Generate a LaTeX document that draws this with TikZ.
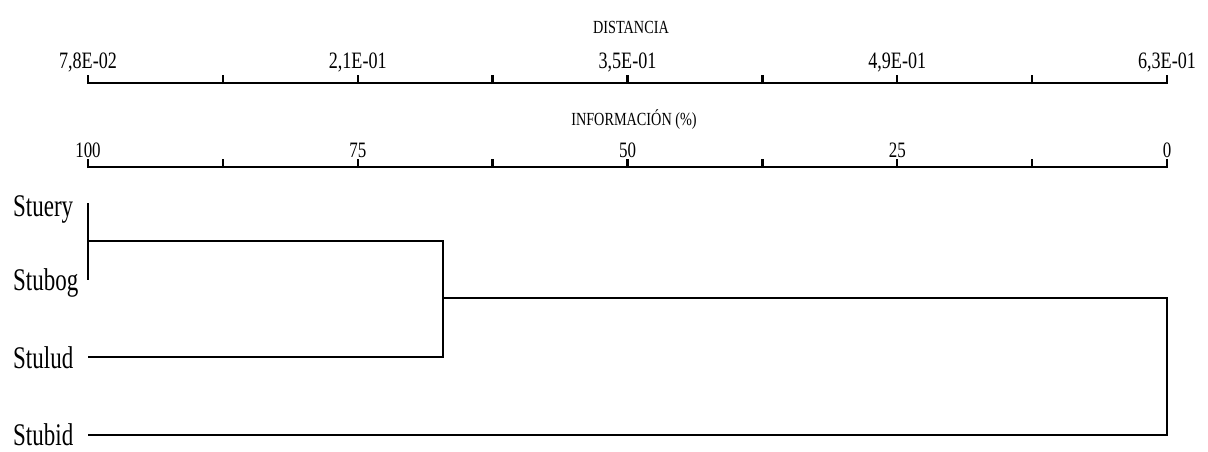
\documentclass[tikz,border=0pt]{standalone}
\usepackage{fontspec}
\setmainfont{Liberation Serif}
\newcommand{\cond}[1]{\scalebox{0.77}[1]{#1}}
\newcommand{\condl}[1]{\scalebox{0.73}[1]{#1}}
\begin{document}
\begin{tikzpicture}[x=1pt,y=-1pt,
  axisline/.style={line width=2.3pt},
  dendro/.style={line width=2.8pt},
  toplab/.style={anchor=base,inner sep=0pt,font=\fontsize{23.5}{23.5}\selectfont},
  botlab/.style={anchor=base,inner sep=0pt,font=\fontsize{22}{22}\selectfont},
  titlelab/.style={anchor=base,inner sep=0pt,font=\fontsize{18.5}{18.5}\selectfont},
  leaf/.style={anchor=base west,inner sep=0pt,font=\fontsize{31.5}{31.5}\selectfont}]
\useasboundingbox (0,0) rectangle (1208,452);
% titles
\node[titlelab] (tdist) at (631,34) {\cond{DISTANCIA}};
\node[titlelab] (tinfo) at (634,125) {\cond{INFORMACIÓN (\%)}};
% axes
\coordinate (a0) at (88,83);
\coordinate (a1) at (1167,83);
\coordinate (b0) at (88,167);
\coordinate (b1) at (1167,167);
\draw[axisline] (a0) -- (a1);
\draw[axisline] (b0) -- (b1);
\foreach \i in {0,...,8} {
  \pgfmathsetmacro{\xx}{88+134.875*\i}
  \draw[axisline] (\xx,84.1) -- (\xx,75);
  \draw[axisline] (\xx,168.1) -- (\xx,159);
}
\node[toplab] (l1) at (88,69) {\cond{7,8E-02}};
\node[toplab] (l2) at (357.75,69) {\cond{2,1E-01}};
\node[toplab] (l3) at (627.5,69) {\cond{3,5E-01}};
\node[toplab] (l4) at (897.25,69) {\cond{4,9E-01}};
\node[toplab] (l5) at (1167,69) {\cond{6,3E-01}};
\node[botlab] (m1) at (88,157) {\cond{100}};
\node[botlab] (m2) at (357.75,157) {\cond{75}};
\node[botlab] (m3) at (627.5,157) {\cond{50}};
\node[botlab] (m4) at (897.25,157) {\cond{25}};
\node[botlab] (m5) at (1167,157) {\cond{0}};
% leaves
\node[leaf] (stuery) at (13,216) {\condl{Stuery}};
\node[leaf] (stubog) at (13,290) {\condl{Stubog}};
\node[leaf] (stulud) at (13,368) {\condl{Stulud}};
\node[leaf] (stubid) at (13,445) {\condl{Stubid}};
% dendrogram
\coordinate (v1top) at (88,203);
\coordinate (v1bot) at (88,280);
\coordinate (j1) at (88,241);
\coordinate (j1r) at (443,241);
\coordinate (lud0) at (88,357);
\coordinate (lud1) at (443,357);
\coordinate (j2) at (443,298);
\coordinate (j2r) at (1167,298);
\coordinate (bid0) at (88,435);
\coordinate (bid1) at (1167,435);
\draw[dendro] (v1top) -- (v1bot);
\draw[dendro] (j1) -- (j1r) -- (lud1) -- (lud0);
\draw[dendro] (j2) -- (j2r) -- (bid1) -- (bid0);
\end{tikzpicture}
\end{document}
